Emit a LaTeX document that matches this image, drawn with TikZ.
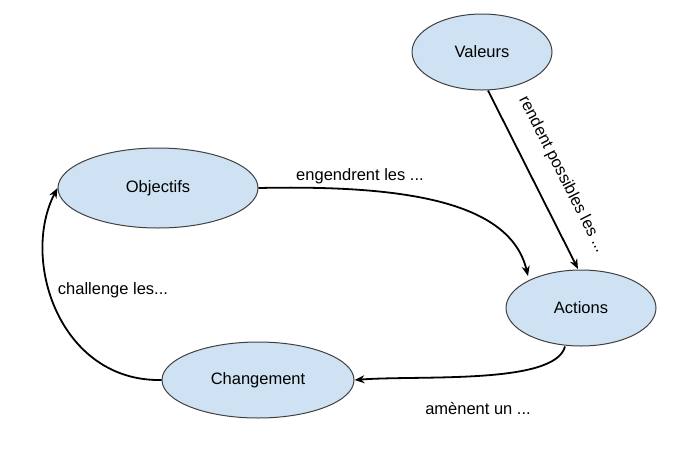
\documentclass[tikz,border=0pt]{standalone}
\usepackage{fontspec}
\setmainfont{Liberation Sans}
\usetikzlibrary{shapes.geometric,arrows.meta}
\definecolor{fillb}{HTML}{CFE2F3}
\begin{document}
\begin{tikzpicture}[x=1pt,y=-1pt,
  el/.style={ellipse,draw=black!75,fill=fillb,line width=1pt,inner sep=0pt,font=\fontsize{16.5}{19}\selectfont},
  arr/.style={-{Stealth[length=10pt,width=8pt]},line width=1.8pt},
  lbl/.style={font=\fontsize{16.5}{19}\selectfont}]
\useasboundingbox (0,0) rectangle (681,456);
\node[el,minimum width=140pt,minimum height=76pt] (val) at (482,52) {Valeurs};
\node[el,minimum width=200pt,minimum height=80pt] (obj) at (158,188) {Objectifs};
\node[el,minimum width=150pt,minimum height=76pt] (act) at (581,308) {Actions};
\node[el,minimum width=192pt,minimum height=76pt] (chg) at (258,380) {Changement};
\draw[arr] (val.south) ++(6,0) coordinate (v0) (v0) -- (578,269) coordinate (a0);
\node[lbl,rotate=-63,anchor=south] at (552,180) {rendent possibles les ...};
\draw[arr] (obj.east) .. controls (400,185) and (510,200) .. (528,276);
\node[lbl] at (360,176) {engendrent les ...};
\draw[arr] (act.south) ++(-16,0) coordinate (a1) (a1) .. controls (555,385) and (420,375) .. (chg.east);
\node[lbl] at (478,408) {amènent un ...};
\draw[arr] (chg.west) .. controls (60,382) and (20,260) .. (obj.west);
\node[lbl] at (113,290) {challenge les...};
\end{tikzpicture}
\end{document}
